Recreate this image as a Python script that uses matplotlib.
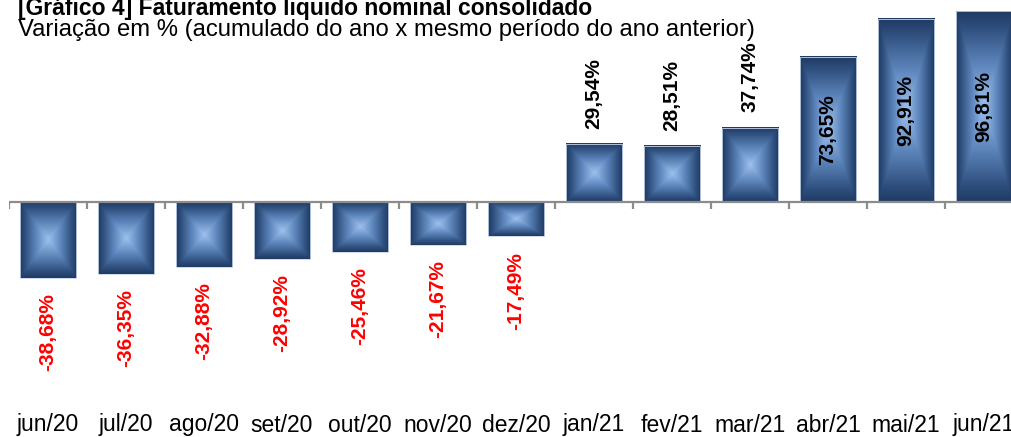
import numpy as np
import matplotlib
matplotlib.use('Agg')
import matplotlib.pyplot as plt
from matplotlib.colors import LinearSegmentedColormap
from matplotlib.transforms import blended_transform_factory

months = ['jun/20', 'jul/20', 'ago/20', 'set/20', 'out/20', 'nov/20', 'dez/20',
          'jan/21', 'fev/21', 'mar/21', 'abr/21', 'mai/21', 'jun/21']
values = [-38.68, -36.35, -32.88, -28.92, -25.46, -21.67, -17.49,
          29.54, 28.51, 37.74, 73.65, 92.91, 96.81]

title = '[Gráfico 4] Faturamento liquido nominal consolidado'
subtitle = 'Variação em % (acumulado do ano x mesmo período do ano anterior)'


def fmt(v):
    return ('%.2f%%' % v).replace('.', ',')


def pyramid(n=200):
    u = np.linspace(-1, 1, n)
    uu, vv = np.meshgrid(u, u)
    return np.maximum(np.abs(uu), np.abs(vv))


plt.rcParams['font.family'] = ['Liberation Sans', 'DejaVu Sans']

W, H = 1011, 437
fig = plt.figure(figsize=(W / 100, H / 100), dpi=100)
cat_px = 78.0
left_px = 9.0
zero_px = 202.0
px_per_unit = 1.97

ax = fig.add_axes([left_px / W, 0, 1, 1])
ax.set_xlim(-0.5, -0.5 + W / cat_px)
ax.set_ylim(-(H - zero_px) / px_per_unit, zero_px / px_per_unit)
ax.axis('off')

cmap = LinearSegmentedColormap.from_list(
    'bar', [(0, '#9cc0ee'), (0.45, '#5c84ba'), (0.85, '#2c4c7a'), (1, '#203a62')])

x = np.arange(len(months))
bars = ax.bar(x, values, width=0.72, color='none', edgecolor='#c8d6ea', linewidth=0.6, zorder=3)
grad = pyramid()
for b in bars:
    bx, by, bw, bh = b.get_x(), b.get_y(), b.get_width(), b.get_height()
    ax.imshow(grad, cmap=cmap, extent=(bx, bx + bw, by, by + bh), aspect='auto',
              interpolation='bilinear', zorder=2, origin='lower')

# axis line with boundary ticks
ax.axhline(0, color='#8c8c8c', lw=1.6, zorder=4)
ax.vlines(np.arange(len(months) + 1) - 0.5, 0, -7 / px_per_unit, color='#8c8c8c', lw=1.6, zorder=4)

# value labels
for xi, v in zip(x, values):
    if v < 0:
        ax.annotate(fmt(v), (xi, v), xytext=(0, -11), textcoords='offset points',
                    rotation=90, ha='center', va='top', color='red',
                    fontsize=15, fontweight='bold')
    elif v < 50:
        ax.annotate(fmt(v), (xi, v), xytext=(0, 11), textcoords='offset points',
                    rotation=90, ha='center', va='bottom', color='black',
                    fontsize=15, fontweight='bold')
    else:
        ax.text(xi, v / 2, fmt(v), rotation=90, ha='center', va='center',
                color='black', fontsize=15, fontweight='bold', zorder=5)

# category labels at bottom
trans = blended_transform_factory(ax.transData, ax.transAxes)
for xi, m in zip(x, months):
    ax.text(xi, 1 - 425 / H, m, transform=trans, ha='center', va='center', fontsize=16.5)

fig.text(18 / W, 1 - 15 / H, title, fontsize=16.5, fontweight='bold', ha='left', va='baseline')
fig.text(18 / W, 1 - 36 / H, subtitle, fontsize=17.2, ha='left', va='baseline')

fig.savefig('out.png', dpi=100)
